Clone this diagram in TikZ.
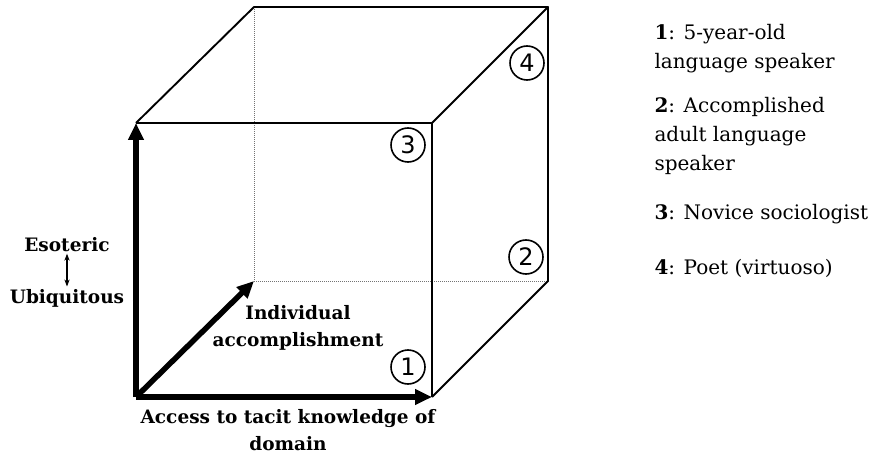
\documentclass[tikz,border=0pt]{standalone}
\usepackage{fontspec}
\setmainfont{DejaVu Serif}
\setsansfont{DejaVu Sans}
\usetikzlibrary{arrows.meta}

\begin{document}
\begin{tikzpicture}[x=1pt, y=-1pt,
        edge/.style={line width=1.9pt, line join=round},
        hidden/.style={line width=1pt, densely dotted, color=black!55},
        axis/.style={line width=5.5pt, -{Triangle[length=17pt, width=15pt]}},
        axislabel/.style={font=\fontsize{18.5}{27}\selectfont\bfseries, align=center},
        cornermark/.style={circle, draw, line width=1.6pt, minimum size=34pt,
                     inner sep=0pt, font=\sffamily\fontsize{24}{24}\selectfont},
        legend/.style={anchor=north west, align=left,
                       font=\fontsize{20}{29}\selectfont},
      ]
        \useasboundingbox (0,0) rectangle (882,454);
        % Ecken des Wuerfels
        \coordinate (fbl) at (136,397);
        \coordinate (fbr) at (432,397);
        \coordinate (ftl) at (136,123);
        \coordinate (ftr) at (432,123);
        \coordinate (bbl) at (254,281);
        \coordinate (bbr) at (548,281);
        \coordinate (btl) at (254,7);
        \coordinate (btr) at (548,7);
        % verdeckte Kanten
        \draw[hidden] (btl) -- (bbl) -- (bbr);
        % sichtbare Kanten
        \draw[edge] (ftl) -- (ftr) -- (fbr);
        \draw[edge] (ftl) -- (btl) -- (btr) -- (ftr);
        \draw[edge] (btr) -- (bbr) -- (fbr);
        % Achsen
        \draw[axis] (fbl) -- (ftl);
        \draw[axis] (fbl) -- (fbr);
        \draw[axis] (fbl) -- (bbl);
        % Achsenbeschriftungen
        \node[axislabel] (esot) at (67,245) {Esoteric};
        \node[axislabel] (ubiq) at (67,298) {Ubiquitous};
        \draw[line width=1.4pt, {Stealth[length=7pt]}-{Stealth[length=7pt]}]
          ([yshift=2pt]esot.south) -- ([yshift=-1pt]ubiq.north);
        \node[axislabel] (indiv) at (298,328) {Individual\\accomplishment};
        \node[axislabel] (access) at (288,430)
          {Access to tacit knowledge of\\domain};
        % Nummern
        \node[cornermark] (m1) at (408,367) {1};
        \node[cornermark] (m2) at (526,257) {2};
        \node[cornermark] (m3) at (408,145) {3};
        \node[cornermark] (m4) at (527,63) {4};
        % Legende
        \node[legend] (leg1) at (651,21)
          {\textbf{1}: 5-year-old\\language speaker};
        \node[legend] (leg2) at (651,94)
          {\textbf{2}: Accomplished\\adult language\\speaker};
        \node[legend] (leg3) at (651,201) {\textbf{3}: Novice sociologist};
        \node[legend] (leg4) at (651,256) {\textbf{4}: Poet (virtuoso)};
      \end{tikzpicture}
\end{document}
